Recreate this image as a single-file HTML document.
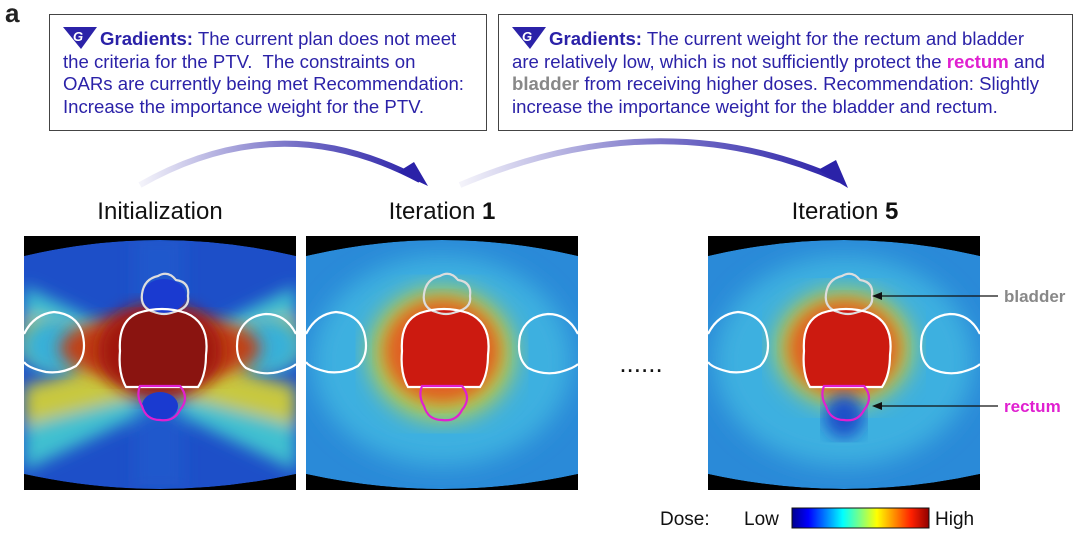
<!DOCTYPE html>
<html><head><meta charset="utf-8"><style>
body{margin:0;width:1080px;height:537px;background:#fff;overflow:hidden;font-family:"Liberation Sans",sans-serif;}
.box{position:absolute;border:1.5px solid #444;background:#fff;color:#2b22a8;font-size:18.6px;line-height:22.5px;padding:12px 0 0 13px;box-sizing:border-box;white-space:nowrap;}
.logo{display:inline-block;vertical-align:-4px;margin-right:3px}
</style></head><body>
<div style="position:absolute;left:5px;top:-2px;font-size:26px;font-weight:bold;color:#222">a</div>
<div class="box" style="left:49px;top:14px;width:438px;height:117px;">
<svg class="logo" width="34" height="22" viewBox="0 0 34 22"><polygon points="0,0 34,0 18,22" fill="#2b22a8"/><text x="10" y="14" font-size="13" font-weight="bold" font-style="italic" fill="#fff">G</text></svg><b>Gradients:</b> The current plan does not meet<br>the criteria for the PTV.&nbsp; The constraints on<br>OARs are currently being met Recommendation:<br>Increase the importance weight for the PTV.</div>
<div class="box" style="left:498px;top:14px;width:575px;height:117px;">
<svg class="logo" width="34" height="22" viewBox="0 0 34 22"><polygon points="0,0 34,0 18,22" fill="#2b22a8"/><text x="10" y="14" font-size="13" font-weight="bold" font-style="italic" fill="#fff">G</text></svg><b>Gradients:</b> The current weight for the rectum and bladder<br>are relatively low, which is not sufficiently protect the <b style="color:#e020d0">rectum</b> and<br><b style="color:#888">bladder</b> from receiving higher doses. Recommendation: Slightly<br>increase the importance weight for the bladder and rectum.</div>

<svg width="1080" height="537" style="position:absolute;left:0;top:0" viewBox="0 0 1080 537">
<defs>
<linearGradient id="ar" x1="0" x2="1"><stop offset="0" stop-color="#2b22a8" stop-opacity="0.05"/><stop offset="0.5" stop-color="#2b22a8" stop-opacity="0.6"/><stop offset="1" stop-color="#2b22a8"/></linearGradient>
<linearGradient id="jet" x1="0" x2="1"><stop offset="0" stop-color="#00008f"/><stop offset="0.12" stop-color="#0000ff"/><stop offset="0.37" stop-color="#00ffff"/><stop offset="0.5" stop-color="#80ff80"/><stop offset="0.62" stop-color="#ffff00"/><stop offset="0.87" stop-color="#ff2000"/><stop offset="1" stop-color="#900000"/></linearGradient>
<filter id="bl"><feGaussianBlur stdDeviation="8"/></filter>
<filter id="bl2"><feGaussianBlur stdDeviation="12"/></filter>
<clipPath id="cp"><path d="M0,20 Q136,-12 272,20 L272,238 Q136,268 0,238Z"/></clipPath>
<path id="body" d="M0,20 Q136,-12 272,20 L272,238 Q136,268 0,238Z"/>
<g id="contours" fill="none" stroke-width="2.2">
<path d="M118,58 q2,-15 16,-18 q10,-6 18,4 q14,2 12,16 q2,12 -14,16 q-10,4 -20,0 q-14,-4 -12,-18z" stroke="#ddd"/>
<path d="M96,115 q-2,-30 18,-38 q24,-8 48,0 q24,10 20,42 q0,20 -8,32 l-72,0 q-8,-14 -6,-36z" stroke="#fff"/>
<path d="M116,150 l40,0 q10,12 0,24 q-6,12 -20,10 q-14,0 -18,-14 q-6,-10 -2,-20z" stroke="#e020d0"/>
<path d="M0,98 q10,-20 30,-22 q22,2 28,20 q6,22 -6,34 q-14,8 -30,6 q-18,-4 -22,-10" stroke="#fff"/>
<path d="M272,98 q-10,-20 -30,-20 q-22,2 -28,22 q-4,22 8,32 q16,8 32,4 q14,-4 18,-8" stroke="#fff"/>
</g>
</defs>
<path d="M140,185 Q280,105 420,180" stroke="url(#ar)" stroke-width="6" fill="none"/>
<polygon points="398,172 428,186 414,162" fill="#2b22a8"/>
<path d="M460,185 Q660,100 840,180" stroke="url(#ar)" stroke-width="6" fill="none"/>
<polygon points="818,170 848,188 836,160" fill="#2b22a8"/>
<g font-size="24" fill="#111" text-anchor="middle">
<text x="160" y="219">Initialization</text>
<text x="442" y="219">Iteration <tspan font-weight="bold">1</tspan></text>
<text x="845" y="219">Iteration <tspan font-weight="bold">5</tspan></text>
</g>
<rect x="24" y="236" width="272" height="254" fill="#000"/>
<rect x="306" y="236" width="272" height="254" fill="#000"/>
<rect x="708" y="236" width="272" height="254" fill="#000"/>
<!-- panel 1 -->
<g transform="translate(24,236)"><g clip-path="url(#cp)">
<use href="#body" fill="#1d4fc8"/>
<g filter="url(#bl)">
<polygon points="0,50 272,180 272,235 0,105" fill="#40c0d0"/>
<polygon points="0,180 272,50 272,105 0,235" fill="#40c0d0"/>
<polygon points="0,80 272,150 272,190 0,120" fill="#c8c840"/>
<polygon points="0,150 272,80 272,120 0,190" fill="#c8c840"/>
<polygon points="110,0 160,0 160,254 110,254" fill="#2060d0" opacity="0.5"/>
</g>
<ellipse cx="30" cy="110" rx="32" ry="28" fill="#38b0d8" filter="url(#bl)"/>
<ellipse cx="245" cy="110" rx="32" ry="28" fill="#38b0d8" filter="url(#bl)"/>
<ellipse cx="136" cy="112" rx="100" ry="34" fill="#c04018" filter="url(#bl)"/>
<ellipse cx="136" cy="115" rx="62" ry="48" fill="#a01810" filter="url(#bl)"/>
<path d="M96,115 q-2,-30 18,-38 q24,-8 48,0 q24,10 20,42 q0,20 -8,32 l-72,0 q-8,-14 -6,-36z" fill="#8a1410"/>
<ellipse cx="140" cy="60" rx="22" ry="17" fill="#1a3ad0"/>
<ellipse cx="136" cy="170" rx="18" ry="14" fill="#1a3ad0"/>
<use href="#contours"/>
</g></g>
<!-- panel 2 -->
<g transform="translate(306,236)"><g clip-path="url(#cp)">
<use href="#body" fill="#2a8ad8"/>
<ellipse cx="136" cy="125" rx="130" ry="105" fill="#3cb0e0" filter="url(#bl2)"/>
<ellipse cx="136" cy="118" rx="72" ry="66" fill="#c0d040" filter="url(#bl2)"/>
<ellipse cx="136" cy="115" rx="58" ry="52" fill="#e06020" filter="url(#bl)"/>
<path d="M96,115 q-2,-30 18,-38 q24,-8 48,0 q24,10 20,42 q0,20 -8,32 l-72,0 q-8,-14 -6,-36z" fill="#cc1a10"/>
<use href="#contours"/>
</g></g>
<!-- panel 3 -->
<g transform="translate(708,236)"><g clip-path="url(#cp)">
<use href="#body" fill="#2a8ad8"/>
<ellipse cx="136" cy="125" rx="130" ry="105" fill="#3cb0e0" filter="url(#bl2)"/>
<ellipse cx="136" cy="112" rx="68" ry="58" fill="#c0d040" filter="url(#bl2)"/>
<ellipse cx="136" cy="112" rx="56" ry="48" fill="#e06020" filter="url(#bl)"/>
<path d="M96,115 q-2,-30 18,-38 q24,-8 48,0 q24,10 20,42 q0,20 -8,32 l-72,0 q-8,-14 -6,-36z" fill="#cc1a10"/>
<ellipse cx="136" cy="180" rx="20" ry="22" fill="#1a50c8" filter="url(#bl)"/>
<use href="#contours"/>
</g></g>
<text x="641" y="372" font-size="26" text-anchor="middle" fill="#111">......</text>
<g stroke="#111" stroke-width="1.3"><line x1="998" y1="296" x2="880" y2="296"/><line x1="998" y1="406" x2="880" y2="406"/></g>
<polygon points="872,296 882,292 882,300" fill="#111"/><polygon points="872,406 882,402 882,410" fill="#111"/>
<text x="1004" y="302" font-size="17" font-weight="bold" fill="#888">bladder</text>
<text x="1004" y="412" font-size="17" font-weight="bold" fill="#e020d0">rectum</text>
<g font-size="19" fill="#111"><text x="660" y="525">Dose:</text><text x="744" y="525">Low</text><text x="935" y="525">High</text></g>
<rect x="792" y="508" width="137" height="20" fill="url(#jet)" stroke="#111" stroke-width="1"/>
</svg>
</body></html>
